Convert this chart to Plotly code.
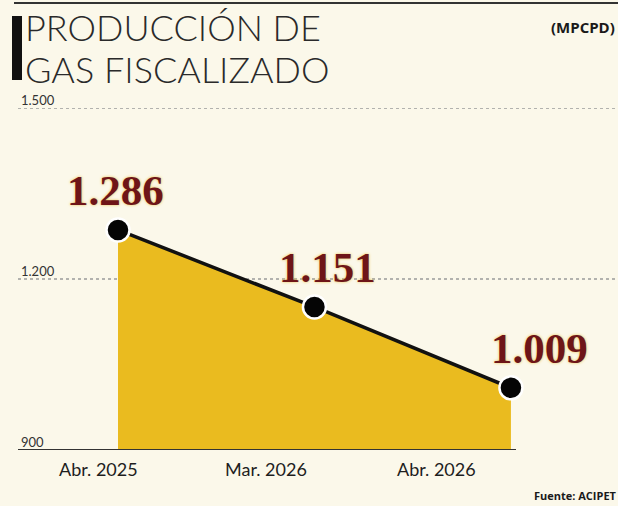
import plotly.graph_objects as go

# ---- data ----
categories = ["Abr. 2025", "Mar. 2026", "Abr. 2026"]
production = [1286, 1151, 1009]
y_ticks = [900, 1200, 1500]
title_lines = ["PRODUCCIÓN DE", "GAS FISCALIZADO"]
unit_label = "(MPCPD)"
source_label = "Fuente: ACIPET"

# ---- geometry helpers (pixels -> paper) ----
W, H = 618, 506
ML, MR, MT, MB = 18, 0, 108, 56
PW, PH = W - ML - MR, H - MT - MB


def px(x):
    return (x - ML) / PW


def py(y):
    return (H - MB - y) / PH


def fmt(v):
    return f"{v:,.0f}".replace(",", ".")


xs = list(range(len(categories)))
BG = "#FBF8EA"
GOLD = "#EABB1F"
RED = "#6E1518"

fig = go.Figure()

# baseline for the fill
fig.add_trace(go.Scatter(x=xs, y=[y_ticks[0]] * len(xs), mode="lines",
                         line=dict(width=0, color=GOLD), hoverinfo="skip",
                         showlegend=False))
# area + line + markers
fig.add_trace(go.Scatter(
    x=xs, y=production, mode="lines+markers", fill="tonexty",
    fillcolor=GOLD, line=dict(color="#111111", width=3.5),
    marker=dict(size=23, color="#050505", line=dict(color="white", width=2.5)),
    cliponaxis=False, showlegend=False))

annotations = []
# value labels
label_shift = [-3, 13, 29]
for i, v in enumerate(production):
    annotations.append(dict(
        x=xs[i], y=v, xref="x", yref="y", text=fmt(v), showarrow=False,
        xshift=label_shift[i], yshift=39,
        font=dict(family="Liberation Serif", size=43, color=RED, weight="bold",
                  shadow="0px 0px 3px #E9C24A"),
    ))
# category labels (offset left of points as in reference)
cat_shift = [-20, -48, -74]
for i, c in enumerate(categories):
    annotations.append(dict(
        x=xs[i], y=0, xref="x", yref="paper", yanchor="top", yshift=-6,
        text=c, showarrow=False, xshift=cat_shift[i],
        font=dict(family="Lato", size=18, color="#1e1e1e"),
    ))
# y tick labels above grid lines
for t in y_ticks:
    annotations.append(dict(
        x=px(19), y=t, xref="paper", yref="y", xanchor="left", yanchor="bottom",
        yshift=-2, text=fmt(t), showarrow=False,
        font=dict(family="Lato", size=13, color="#333333"),
    ))
# title
for j, line in enumerate(title_lines):
    annotations.append(dict(
        x=px(23), y=py(3 + j * 42), xref="paper", yref="paper",
        xanchor="left", yanchor="top", text=line, showarrow=False,
        font=dict(family="Lato", size=36, color="#2a2a2a", weight=300),
    ))
annotations.append(dict(
    x=px(617), y=py(15), xref="paper", yref="paper", xanchor="right",
    yanchor="top", text=unit_label, showarrow=False,
    font=dict(family="Open Sans", size=15, color="#1a1a1a", weight="bold"),
))
annotations.append(dict(
    x=px(619), y=py(486), xref="paper", yref="paper", xanchor="right",
    yanchor="top", text=source_label, showarrow=False,
    font=dict(family="Open Sans", size=11, color="#1a1a1a", weight="bold"),
))

shapes = [
    # top rule
    dict(type="line", xref="paper", yref="paper", x0=px(14), x1=px(618),
         y0=py(3), y1=py(3), line=dict(color="#333333", width=2)),
    # black bar by title
    dict(type="rect", xref="paper", yref="paper", x0=px(12), x1=px(22),
         y0=py(16), y1=py(80), fillcolor="#111111", line=dict(width=0)),
    # baseline
    dict(type="line", xref="paper", yref="y", x0=0, x1=px(516),
         y0=y_ticks[0], y1=y_ticks[0], line=dict(color="#333333", width=2)),
]
# dotted grid lines
for t in y_ticks[1:]:
    shapes.append(dict(type="line", xref="paper", yref="y", x0=0, x1=1,
                       y0=t, y1=t, layer="below",
                       line=dict(color="#9a9a9a", width=1.5, dash="dot")))

fig.update_layout(
    width=W, height=H, margin=dict(l=ML, r=MR, t=MT, b=MB),
    paper_bgcolor=BG, plot_bgcolor=BG, separators=",.",
    xaxis=dict(range=[-0.509, 2.545], showgrid=False, zeroline=False,
               showticklabels=False, showline=False, fixedrange=True),
    yaxis=dict(range=[y_ticks[0], y_ticks[-1]], showgrid=False,
               zeroline=False, showticklabels=False, showline=False),
    annotations=annotations, shapes=shapes,
)

fig.write_html(
    "out.html",
    config={"displayModeBar": False},
    post_script="document.body.style.margin='0';document.body.style.background='%s';" % BG,
)
